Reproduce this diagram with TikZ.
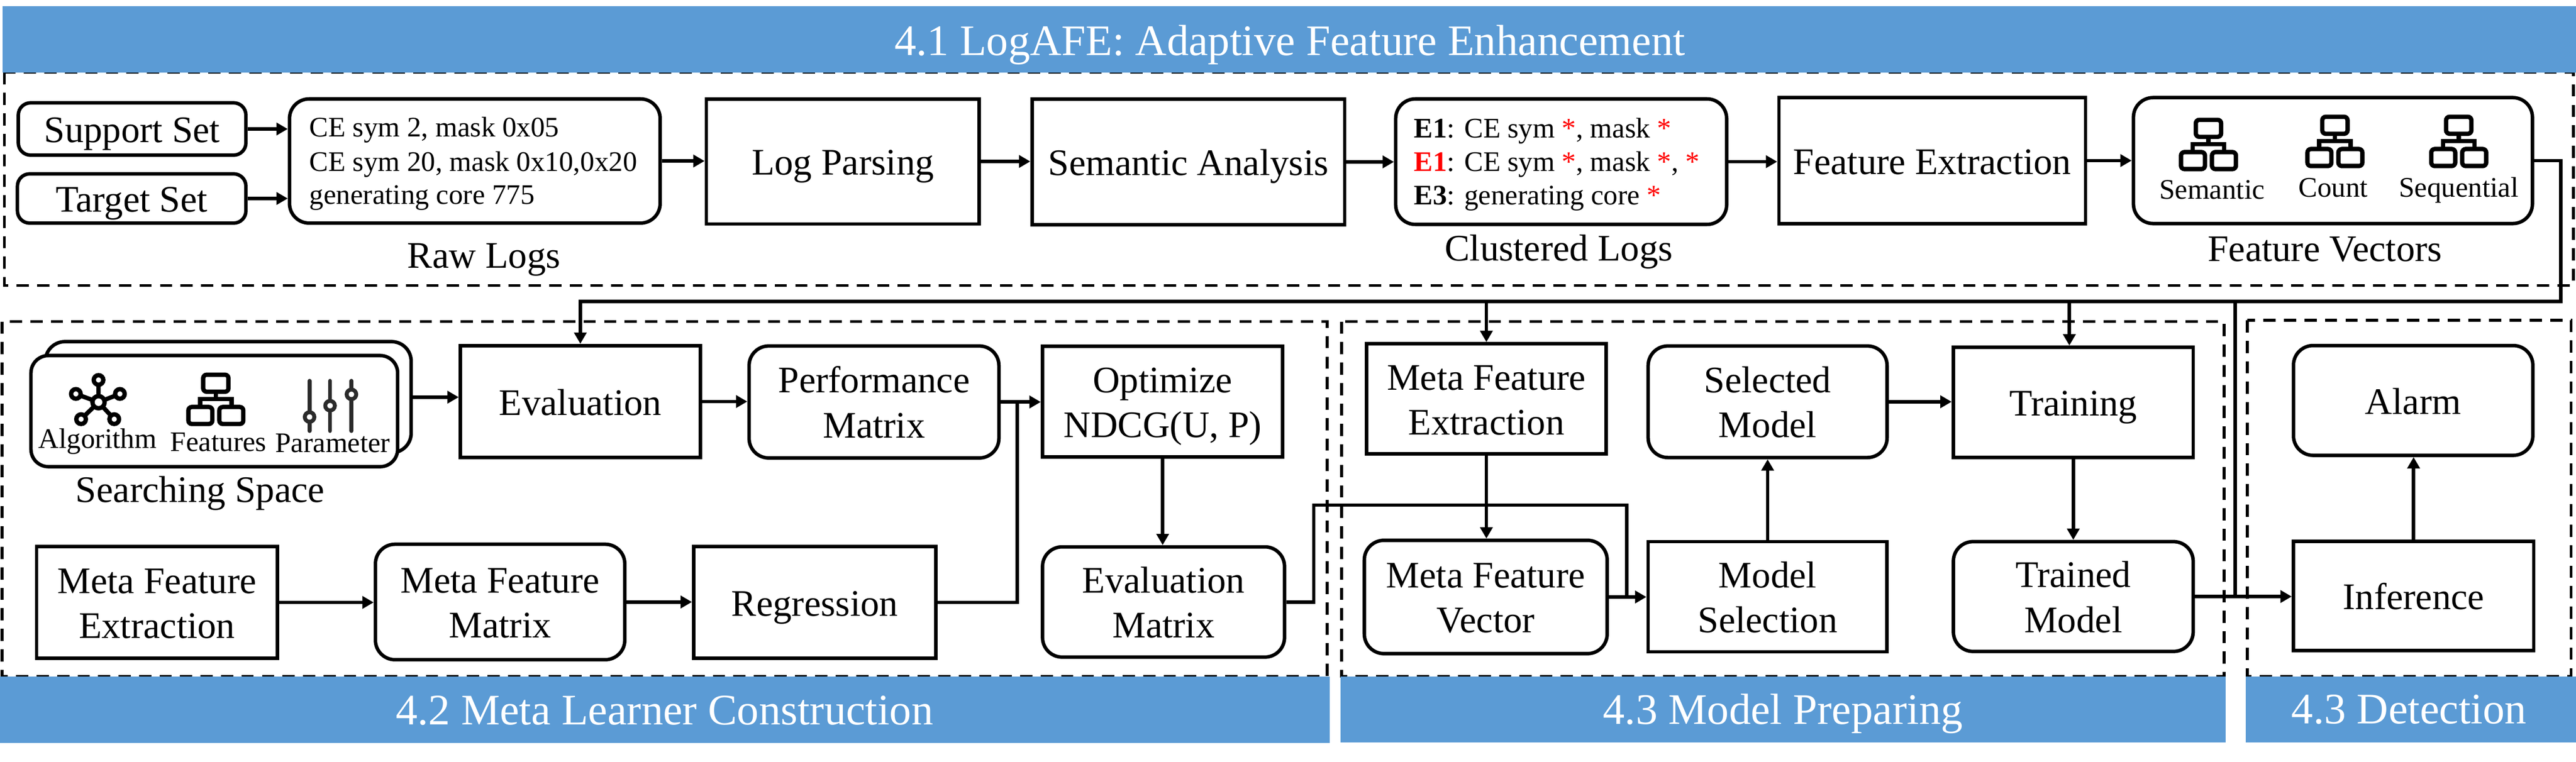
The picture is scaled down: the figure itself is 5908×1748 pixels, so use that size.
\documentclass[tikz,border=0pt]{standalone}
\usepackage{fontspec}
\setmainfont{Liberation Serif}
\usetikzlibrary{arrows.meta}
\definecolor{bannerblue}{HTML}{5B9BD5}
\definecolor{icongray}{HTML}{2B2B2B}
\newcommand\fsz[1]{\fontsize{#1pt}{#1pt}\selectfont}
\newcommand\nt[1]{\raisebox{-3.1pt}[0pt][0pt]{\makebox[0pt]{#1}}}
\newcommand\ntt[2]{\raisebox{2.1pt}[0pt][0pt]{\makebox[0pt]{#1}}\raisebox{-8.2pt}[0pt][0pt]{\makebox[0pt]{#2}}}
\newcommand\bx[7][]{\node[#2,#1,minimum width={(#5-#3-8)*0.1pt},minimum height={(#6-#4-8)*0.1pt}] (#7) at ({(#3+#5)/2},{(#4+#6)/2})}
\newcommand\redast{{\color{red}*}}
\newcommand\orgicon[2]{%
  \begin{scope}[shift={(#1,#2)},line width=1pt,rounded corners=.8pt]
    \draw (-29,5) rectangle (29,44);
    \draw (-63,79) rectangle (-8,118);
    \draw (8,79) rectangle (63,118);
    \draw[sharp corners] (0,44) -- (0,61) (-36,79) -- (-36,61) -- (36,61) -- (36,79);
  \end{scope}}
\tikzset{
  plainbox/.style={draw,line width=.8pt,inner sep=0pt,fill=white,font=\fsz{8.6}},
  softbox/.style={plainbox,rounded corners=4.5pt},
  smallbox/.style={plainbox,rounded corners=2.8pt},
  regionbox/.style={draw,line width=.65pt,dash pattern=on 2.8pt off 1.9pt},
  banner/.style={fill=bannerblue,draw=none},
  bannertext/.style={anchor=base,text=white,inner sep=0pt,font=\fsz{10}},
  caption/.style={anchor=base,inner sep=0pt,font=\fsz{8.6}},
  smalltext/.style={anchor=base,inner sep=0pt,font=\fsz{6.5}},
  logline/.style={anchor=base west,inner sep=0pt,font=\fsz{6.5}},
  ln/.style={line width=.8pt},
  arr/.style={ln,-{Triangle[length=2.6pt,width=2.8pt]}},
}
\begin{document}
\begin{tikzpicture}[x=0.1pt,y=-0.1pt]
\useasboundingbox (0,0) rectangle (5908,1748);
% dashed regions
\draw[regionbox] (10,166) rectangle (5902,655);
\draw[regionbox] (5,738) rectangle (3044,1552);
\draw[regionbox] (3077,738) rectangle (5101,1552);
\draw[regionbox] (5154,735) rectangle (5897,1552);
% banners
\fill[banner] (6,14) rectangle (5908,166);
\fill[banner] (0,1552) rectangle (3050,1705);
\fill[banner] (3074,1552) rectangle (5104,1704);
\fill[banner] (5151,1552) rectangle (5908,1704);
\node[bannertext] (t41) at (2958,127) {4.1 LogAFE: Adaptive Feature Enhancement};
\node[bannertext] (t42) at (1524,1663) {4.2 Meta Learner Construction};
\node[bannertext] (t43) at (4089,1662) {4.3 Model Preparing};
\node[bannertext] (t44) at (5525,1661) {4.3 Detection};
% row 1
\bx{smallbox}{38}{232}{568}{360}{sup} {\nt{Support Set}};
\bx{smallbox}{36}{395}{568}{516}{tgt} {\nt{Target Set}};
\bx{softbox}{660}{223}{1518}{516}{raw} {};
\node[logline] (raw1) at (708,314) {CE sym 2, mask 0x05};
\node[logline] (raw2) at (708,393) {CE sym 20, mask 0x10,0x20};
\node[logline] (raw3) at (708,469) {generating core 775};
\node[caption] (rawc) at (1110,615) {Raw Logs};
\bx{plainbox}{1616}{223}{2250}{518}{log} {\nt{Log Parsing}};
\bx{plainbox}{2363}{223}{3088}{520}{sem} {\nt{Semantic Analysis}};
\bx{softbox}{3197}{223}{3964}{519}{clu} {};
\node[logline] (clu1) at (3241,316) {\textbf{E1}: CE sym \redast, mask \redast};
\node[logline] (clu2) at (3241,393) {\textbf{\color{red}E1}: CE sym \redast, mask \redast, \redast};
\node[logline] (clu3) at (3241,470) {\textbf{E3}: generating core \redast};
\node[caption] (cluc) at (3575,598) {Clustered Logs};
\bx{plainbox}{4076}{220}{4787}{517}{fex} {\nt{Feature Extraction}};
\bx{softbox}{4889}{220}{5812}{517}{fvec} {};
\orgicon{5065}{270}
\orgicon{5355}{263}
\orgicon{5639}{263}
\node[smalltext] (fv1) at (5073,457) {Semantic};
\node[smalltext] (fv2) at (5351,452) {Count};
\node[smalltext] (fv3) at (5639,452) {Sequential};
\node[caption] (fvc) at (5332,600) {Feature Vectors};
% searching space
\bx{softbox}{100}{780}{947}{1043}{spaceb} {};
\bx[rounded corners=4pt]{softbox}{67}{812}{916}{1075}{spacef} {};
\begin{scope}[line width=1pt]
  \draw (226,923) -- (226,872) (226,923) -- (174,904) (226,923) -- (275,904) (226,923) -- (186,962) (226,923) -- (262,962);
  \filldraw[fill=white] (226,923) circle (14);
  \filldraw[fill=white] (226,872) circle (11);
  \filldraw[fill=white] (174,904) circle (11);
  \filldraw[fill=white] (275,904) circle (11);
  \filldraw[fill=white] (186,962) circle (11);
  \filldraw[fill=white] (262,962) circle (11);
\end{scope}
\orgicon{495}{855}
\begin{scope}[line width=.9pt,draw=icongray,line cap=round]
  \draw (710,874) -- (710,989) (757,874) -- (757,989) (806,874) -- (806,989);
  \filldraw[fill=white] (710,957) circle (11);
  \filldraw[fill=white] (757,931) circle (11);
  \filldraw[fill=white] (806,905) circle (11);
\end{scope}
\node[smalltext] (sp1) at (224,1029) {Algorithm};
\node[smalltext] (sp2) at (501,1036) {Features};
\node[smalltext] (sp3) at (763,1038) {Parameter};
\node[caption] (spc) at (459,1153) {Searching Space};
% meta learner
\bx{plainbox}{1052}{789}{1610}{1054}{eval} {\nt{Evaluation}};
\bx{softbox}{1714}{790}{2295}{1055}{perf} {\ntt{Performance}{Matrix}};
\bx{plainbox}{2387}{791}{2946}{1053}{opt} {\ntt{Optimize}{NDCG(U, P)}};
\bx{softbox}{2387}{1251}{2950}{1512}{evm} {\ntt{Evaluation}{Matrix}};
\bx{plainbox}{80}{1250}{640}{1515}{mfea} {\ntt{Meta Feature}{Extraction}};
\bx{softbox}{857}{1245}{1437}{1518}{mfm} {\ntt{Meta Feature}{Matrix}};
\bx{plainbox}{1587}{1250}{2150}{1515}{reg} {\nt{Regression}};
% model preparing
\bx{plainbox}{3130}{785}{3688}{1046}{mfeb} {\ntt{Meta Feature}{Extraction}};
\bx{softbox}{3125}{1236}{3690}{1504}{mfv} {\ntt{Meta Feature}{Vector}};
\bx{softbox}{3776}{790}{4332}{1054}{selm} {\ntt{Selected}{Model}};
\bx{plainbox}{3776}{1239}{4332}{1500}{msel} {\ntt{Model}{Selection}};
\bx{plainbox}{4476}{793}{5034}{1054}{train} {\nt{Training}};
\bx{softbox}{4476}{1239}{5034}{1499}{trm} {\ntt{Trained}{Model}};
% detection
\bx{softbox}{5256}{789}{5813}{1049}{alarm} {\nt{Alarm}};
\bx{plainbox}{5256}{1238}{5815}{1497}{inf} {\nt{Inference}};
% connectors
\coordinate (busR) at (5873,692);
\coordinate (busD) at (5126,692);
\coordinate (jn) at (2333,922);
\coordinate (a1) at (3013,1159);
\coordinate (a2) at (3731,1159);
\coordinate (a3) at (3731,1369);
\draw[arr] (sup.east) -- (sup.east -| raw.west);
\draw[arr] (tgt.east) -- (tgt.east -| raw.west);
\draw[arr] (raw.east) -- (raw.east -| log.west);
\draw[arr] (log.east) -- (log.east -| sem.west);
\draw[arr] (sem.east) -- (sem.east -| clu.west);
\draw[arr] (clu.east) -- (clu.east -| fex.west);
\draw[arr] (fex.east) -- (fex.east -| fvec.west);
\draw[arr] (fvec.east) -| (busR) -| (eval.north);
\draw[arr] (busR -| mfeb.north) -- (mfeb.north);
\draw[arr] ([xshift=-.9pt]busR -| train.north) -- ([xshift=-.9pt]train.north);
\draw[ln] (busD) -- (busD |- trm.east);
\draw[arr] (spaceb.east) -- (spaceb.east -| eval.west);
\draw[arr] (eval.east) -- (eval.east -| perf.west);
\draw[arr] (perf.east) -- (perf.east -| opt.west);
\draw[ln] (reg.east) -| (jn);
\draw[arr] (opt.south) -- (opt.south |- evm.north);
\draw[arr] (mfea.east) -- (mfea.east -| mfm.west);
\draw[arr] (mfm.east) -- (mfm.east -| reg.west);
\draw[ln] (evm.east) -| (a1) -- (a2) -- (a3);
\draw[arr] (mfeb.south) -- (mfeb.south |- mfv.north);
\draw[arr] (mfv.east) -- (mfv.east -| msel.west);
\draw[arr] (msel.north) -- (msel.north |- selm.south);
\draw[arr] (selm.east) -- (selm.east -| train.west);
\draw[arr] (train.south) -- (train.south |- trm.north);
\draw[arr] (trm.east) -- (trm.east -| inf.west);
\draw[arr] (inf.north) -- (inf.north |- alarm.south);
\end{tikzpicture}
\end{document}
